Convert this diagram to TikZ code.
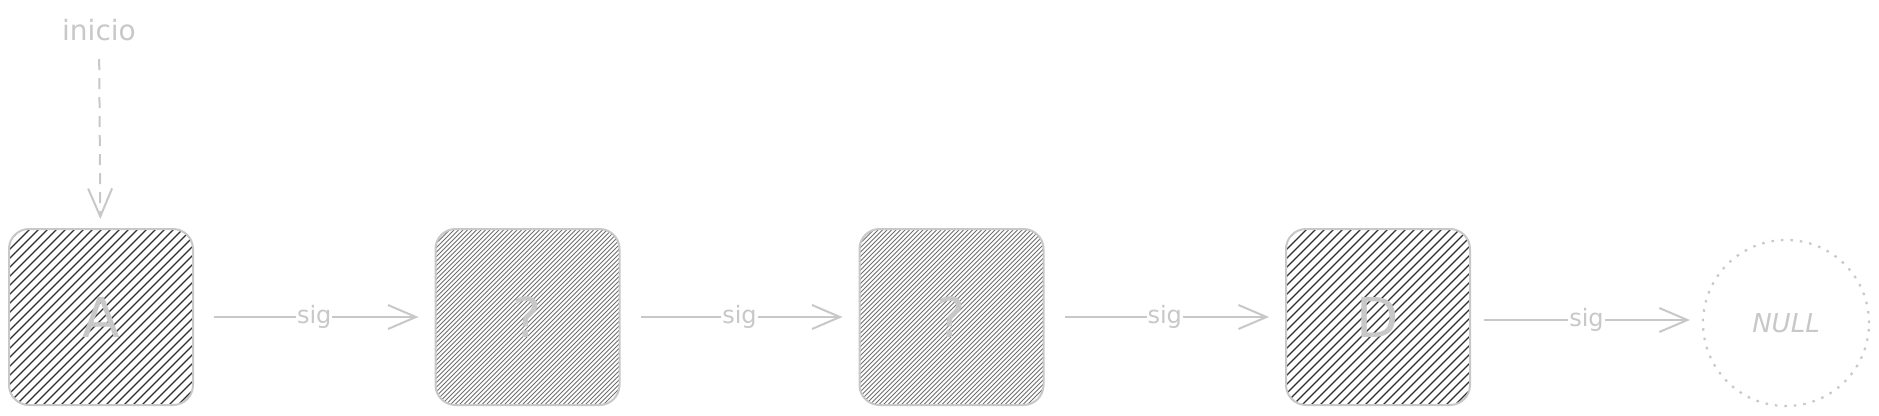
\documentclass[tikz,border=0pt]{standalone}
\usepackage{fontspec}
\setmainfont{DejaVu Sans}
\usetikzlibrary{arrows.meta,calc}
\definecolor{lightink}{HTML}{C8C8C8}
\definecolor{darkhatch}{HTML}{2E2E2E}
\definecolor{midhatch}{HTML}{707070}
\tikzset{
  listbox/.style={draw=lightink, line width=2pt, rounded corners=20pt,
    minimum width=184pt, minimum height=176pt, inner sep=0pt,
    text=lightink, font=\fontsize{55}{58}\selectfont},
  hatched/.style n args={3}{path picture={
      \foreach \t in {-420,-411,...,420}{
        \draw[#2, line width=#3]
          ([xshift={\t*#1 pt-120pt}, yshift=-120pt]path picture bounding box.center)
          -- ++(240pt,240pt);}}},
  darkfill/.style={hatched={1}{darkhatch}{1.2pt}},
  densefill/.style={hatched={0.5}{midhatch}{0.9pt}},
  nextarrow/.style={draw=lightink, line width=2pt,
    -{Straight Barb[length=28pt,width=24pt,line width=2pt]},
    shorten <=20pt, shorten >=16pt},
  siglabel/.style={fill=white, text=lightink, inner sep=1pt, font=\fontsize{24}{26}\selectfont},
  nullcircle/.style={circle, draw=lightink, line width=2.2pt, dash pattern=on 2.5pt off 7pt,
    minimum size=166pt, inner sep=0pt, text=lightink, font=\itshape\fontsize{26}{28}\selectfont},
  toptext/.style={text=lightink, font=\fontsize{28}{30}\selectfont, inner sep=0pt}
}
\begin{document}
\begin{tikzpicture}[x=1pt,y=-1pt]
  \useasboundingbox[fill=white] (0,0) rectangle (1879,415);
  \node[toptext] (inicio) at (99,30) {inicio};
  \node[listbox, darkfill] (A) at (101,317) {A};
  \node[listbox, densefill] (B) at (527.5,317) {?};
  \node[listbox, densefill] (C) at (951.5,317) {?};
  \node[listbox, darkfill] (D) at (1378,317) {D};
  \node[nullcircle] (N) at (1786,323) {NULL};
  \draw[draw=lightink, line width=2pt, dash pattern=on 11pt off 8pt,
    -{Straight Barb[length=28pt,width=24pt,line width=2pt]},
    shorten <=18pt, shorten >=9pt] (inicio) -- (A);
  \draw[nextarrow] (A) -- node[siglabel] {sig} (B);
  \draw[nextarrow] (B) -- node[siglabel] {sig} (C);
  \draw[nextarrow] (C) -- node[siglabel] {sig} (D);
  \draw[nextarrow, shorten <=13pt, shorten >=12pt] ($(D.east)+(0,3)$) -- node[siglabel] {sig} ($(N.west)+(0,-3)$);
\end{tikzpicture}
\end{document}
